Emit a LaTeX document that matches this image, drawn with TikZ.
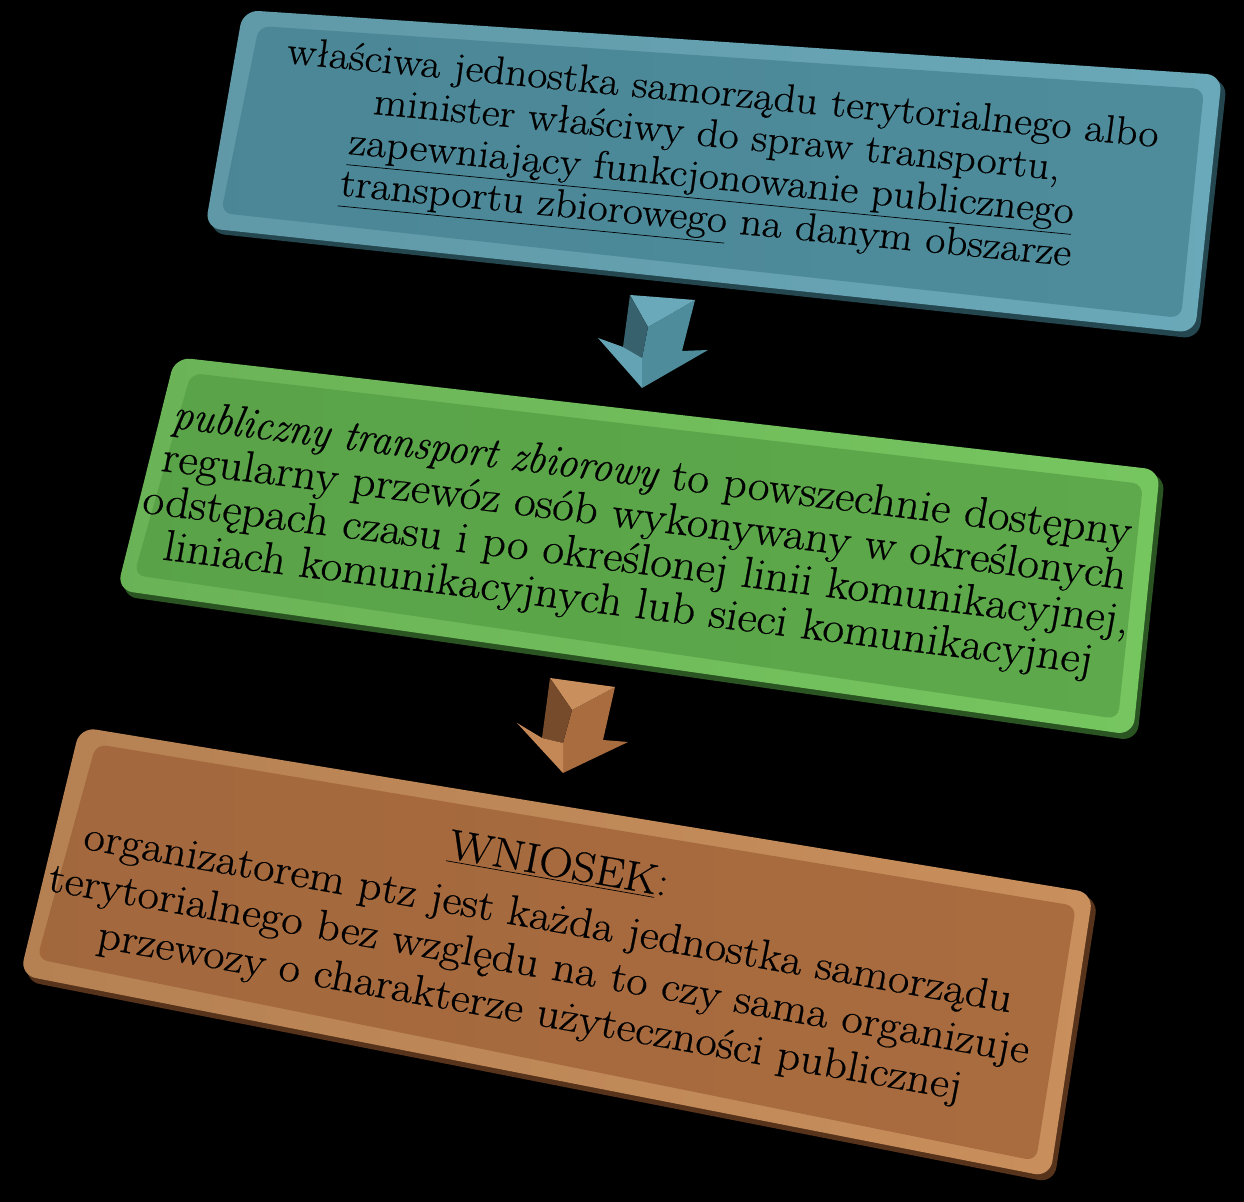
\documentclass[tikz,border=0pt]{standalone}
\usepackage{fontspec}
\usepackage{tikz}
\usetikzlibrary{positioning,calc}

\newfontfamily\boxfont{Latin Modern Roman}[FakeBold=0.5]

\definecolor{blueBase}{HTML}{4E8C9C}
\definecolor{blueRim}{HTML}{6AA9B9}
\definecolor{blueDark}{HTML}{24464F}
\definecolor{greenBase}{HTML}{5DA94B}
\definecolor{greenRim}{HTML}{76C660}
\definecolor{greenDark}{HTML}{2A5421}
\definecolor{brownBase}{HTML}{A96C3F}
\definecolor{brownRim}{HTML}{C98F5C}
\definecolor{brownDark}{HTML}{56331A}

\begin{document}
\begin{tikzpicture}[x=0.02cm,y=-0.02cm]
  \tikzstyle{panel}=[rounded corners=9pt]
  \tikzstyle{inset}=[rounded corners=6pt]
  \tikzstyle{txt}=[align=center,text=black,inner sep=0pt]
  \tikzstyle{facet}=[line join=round]

  \fill[black] (0,0) rectangle (1244,1202);
  \useasboundingbox (0,0) rectangle (1244,1202);

  \begin{scope}
    % First box
    \fill[panel,blueDark] (248,15) -- (1227,80) -- (1199,339) -- (209,233) -- cycle;
    \shade[panel,left color=blueRim!90!black,right color=blueRim] (243,10) -- (1222,75) -- (1195,333) -- (205,228) -- cycle;
    \shade[inset,left color=blueBase!96!black,right color=blueBase] (259,26) -- (1204,89) -- (1181,318) -- (221,213) -- cycle;
    \node [txt,rotate=-5.5,xslant=0.04,xscale=1.1,font=\boxfont\fontsize{22.5}{24}\selectfont] (Org) at (714,160)
      {właściwa jednostka samorządu terytorialnego albo\\
       minister właściwy do spraw transportu,\\
       \underline{zapewniający funkcjonowanie publicznego}\\
       \underline{transportu zbiorowego} na danym obszarze};

    % Second box
    \fill[panel,greenDark] (180,362) -- (1165,475) -- (1137,741) -- (121,596) -- cycle;
    \shade[panel,left color=greenRim!90!black,right color=greenRim] (175,357) -- (1160,470) -- (1133,735) -- (117,590) -- cycle;
    \shade[inset,left color=greenBase!96!black,right color=greenBase] (191,373) -- (1143,484) -- (1118,719) -- (134,575) -- cycle;
    \node [txt,rotate=-7,xslant=0.06,xscale=1.07,font=\boxfont\fontsize{25}{25}\selectfont] (Ptz) at (640,541)
      {\scalebox{0.86}[1]{\itshape publiczny transport zbiorowy} to powszechnie dostępny\\
       regularny przewóz osób wykonywany w określonych\\
       odstępach czasu i po określonej linii komunikacyjnej,\\
       liniach komunikacyjnych lub sieci komunikacyjnej};

    % Third box
    \fill[panel,brownDark] (85,732) -- (1098,898) -- (1054,1183) -- (24,981) -- cycle;
    \shade[panel,left color=brownRim!90!black,right color=brownRim] (80,727) -- (1093,893) -- (1050,1177) -- (20,975) -- cycle;
    \shade[inset,left color=brownBase!96!black,right color=brownBase] (96,744) -- (1076,906) -- (1036,1161) -- (37,959) -- cycle;
    \node [txt,rotate=-10,xslant=0.02,xscale=1.1,font=\boxfont\fontsize{24}{27}\selectfont] (Wn) at (544,940)
      {\underline{WNIOSEK}:\\[4pt]
       organizatorem ptz jest każda jednostka samorządu\\
       terytorialnego bez względu na to czy sama organizuje\\
       przewozy o charakterze użyteczności publicznej};
  \end{scope}

  \begin{scope}
    % Block arrows
    \coordinate (a1) at (630,295); \coordinate (b1) at (695,300);
    \coordinate (c1) at (682,351); \coordinate (d1) at (708,350);
    \coordinate (e1) at (642,388); \coordinate (f1) at (598,338);
    \coordinate (g1) at (623,347); \coordinate (m1) at (648,327);
    \coordinate (n1) at (642,358);
    \fill[facet,blueBase] (b1) -- (c1) -- (d1) -- (e1) -- (n1) -- (m1) -- cycle;
    \fill[facet,blueRim] (a1) -- (b1) -- (m1) -- cycle;
    \fill[facet,blueBase!70!black] (a1) -- (m1) -- (n1) -- (g1) -- cycle;
    \fill[facet,blueRim!80!blueBase] (f1) -- (g1) -- (n1) -- (e1) -- cycle;

    \coordinate (a2) at (550,678); \coordinate (b2) at (615,687);
    \coordinate (c2) at (603,740); \coordinate (d2) at (628,742);
    \coordinate (e2) at (563,773); \coordinate (f2) at (517,723);
    \coordinate (g2) at (542,738); \coordinate (m2) at (572,710);
    \coordinate (n2) at (563,743);
    \fill[facet,brownBase] (b2) -- (c2) -- (d2) -- (e2) -- (n2) -- (m2) -- cycle;
    \fill[facet,brownRim] (a2) -- (b2) -- (m2) -- cycle;
    \fill[facet,brownBase!70!black] (a2) -- (m2) -- (n2) -- (g2) -- cycle;
    \fill[facet,brownRim!80!brownBase] (f2) -- (g2) -- (n2) -- (e2) -- cycle;
  \end{scope}
\end{tikzpicture}
\end{document}
